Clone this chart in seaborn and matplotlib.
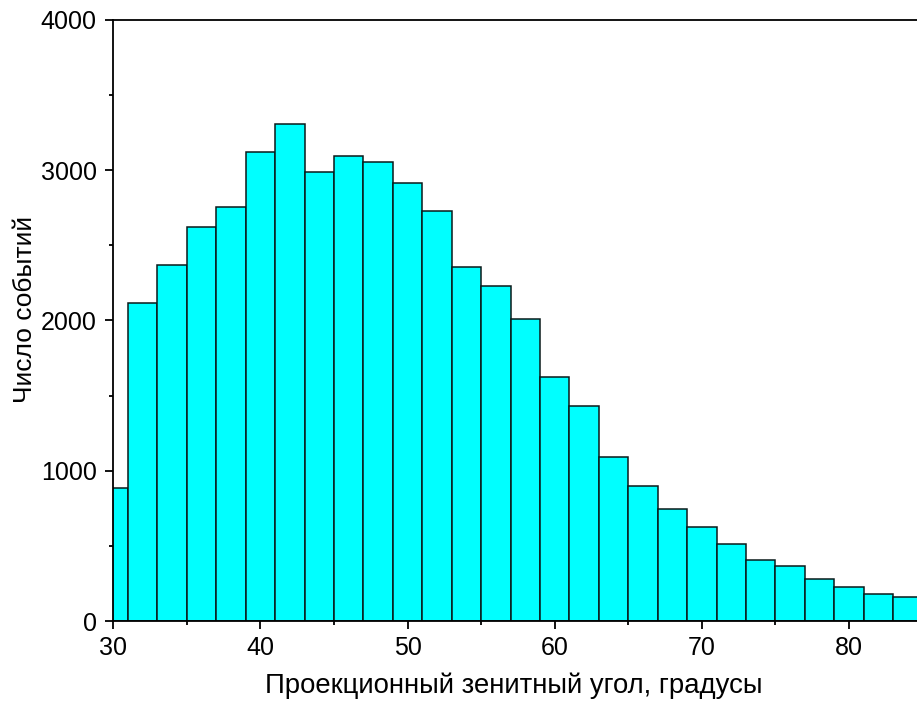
import numpy as np
import pandas as pd
import matplotlib
matplotlib.use("Agg")
import matplotlib.pyplot as plt
import seaborn as sns
from matplotlib.ticker import MultipleLocator

# Data
angle_centers = [30, 32, 34, 36, 38, 40, 42, 44, 46, 48, 50, 52, 54, 56, 58,
                 60, 62, 64, 66, 68, 70, 72, 74, 76, 78, 80, 82, 84]
event_counts = [888, 2114, 2367, 2623, 2758, 3120, 3307, 2989, 3093, 3056, 2912, 2726,
                2358, 2227, 2007, 1626, 1432, 1094, 901, 748, 626, 515, 406, 364,
                280, 224, 180, 162]
bin_edges = [29, 31, 33, 35, 37, 39, 41, 43, 45, 47, 49, 51, 53, 55, 57, 59,
             61, 63, 65, 67, 69, 71, 73, 75, 77, 79, 81, 83, 85]

x_label = "Проекционный зенитный угол, градусы"
y_label = "Число событий"

df = pd.DataFrame({"angle": angle_centers, "count": event_counts})

sns.set_style("ticks")
plt.rcParams['font.family'] = ['Liberation Sans', 'DejaVu Sans']

fig = plt.figure(figsize=(9.17, 7.03), dpi=100)
ax = fig.add_axes([0.1236, 0.1166, 0.8764, 0.855])

sns.histplot(data=df, x="angle", weights="count", bins=bin_edges, ax=ax,
             color="#00FFFF", edgecolor="#0a1a1a", linewidth=1.1, alpha=1.0)

ax.set_xlim(30, 84.62)
ax.set_ylim(0, 4000)
ax.xaxis.set_major_locator(MultipleLocator(10))
ax.xaxis.set_minor_locator(MultipleLocator(5))
ax.yaxis.set_major_locator(MultipleLocator(1000))
ax.yaxis.set_minor_locator(MultipleLocator(500))
ax.tick_params(axis="both", which="major", direction="out", length=6, width=1.3,
               labelsize=18, colors="black")
ax.tick_params(axis="x", which="major", pad=5)
ax.tick_params(axis="y", which="major", pad=6)
ax.tick_params(axis="both", which="minor", direction="out", length=3, width=1.3,
               colors="black")
ax.set_xlabel(x_label, fontsize=19.8, color="black")
ax.set_ylabel(y_label, fontsize=19, color="black")
fig_w, fig_h = 917, 703
ax.xaxis.set_label_coords((265 + 762) / 2 / fig_w, 1 - 686 / fig_h,
                          transform=fig.transFigure)
ax.xaxis.label.set_va("center")
ax.yaxis.set_label_coords(25 / fig_w, 1 - 309 / fig_h, transform=fig.transFigure)
ax.yaxis.label.set_va("center")

for side in ["left", "bottom", "top"]:
    ax.spines[side].set_linewidth(1.3)
    ax.spines[side].set_color("black")
ax.spines["right"].set_visible(False)
ax.spines["top"].set_visible(True)

fig.savefig("out.png", dpi=100)
